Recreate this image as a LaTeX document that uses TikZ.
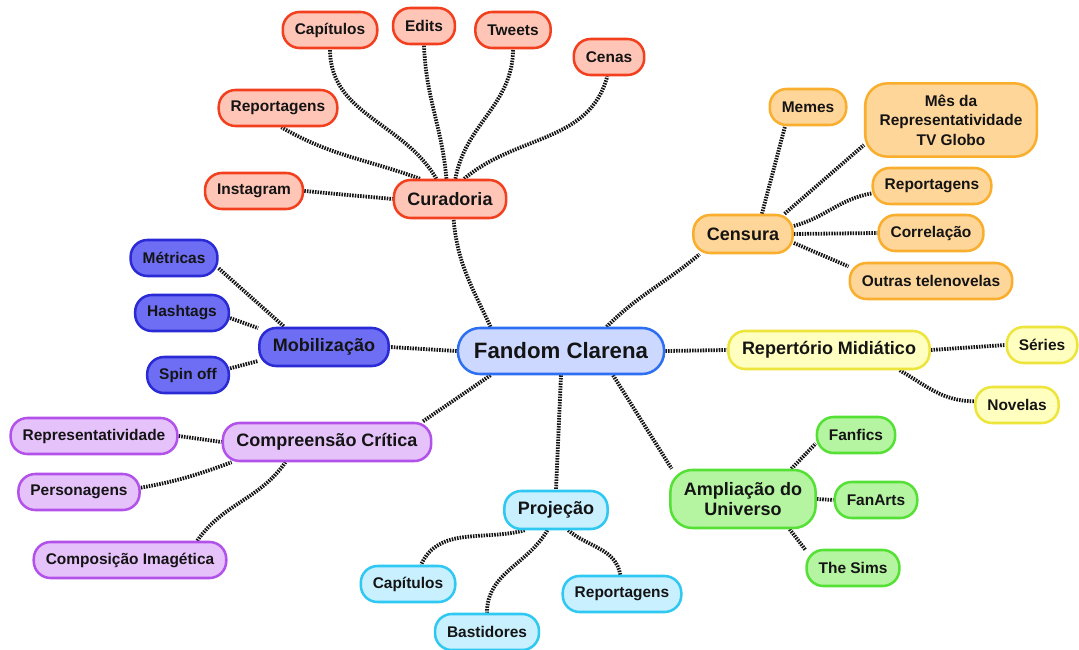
\documentclass[tikz,border=0pt]{standalone}
\usepackage{fontspec}
\setmainfont{Liberation Sans}
\usetikzlibrary{backgrounds}
\definecolor{ink}{HTML}{141414}
\definecolor{corefill}{HTML}{CCD8FF}
\definecolor{coreline}{HTML}{2D6FF2}
\definecolor{curfill}{HTML}{FFC6B8}
\definecolor{curline}{HTML}{F2401F}
\definecolor{censfill}{HTML}{FFD699}
\definecolor{censline}{HTML}{F9AE2D}
\definecolor{mobfill}{HTML}{6E6EF5}
\definecolor{mobline}{HTML}{2B2BD6}
\definecolor{repfill}{HTML}{FFFFC0}
\definecolor{repline}{HTML}{EDE43C}
\definecolor{ampfill}{HTML}{B5F5A2}
\definecolor{ampline}{HTML}{55E035}
\definecolor{compfill}{HTML}{E6C2FA}
\definecolor{compline}{HTML}{B352EA}
\definecolor{projfill}{HTML}{C9F0FF}
\definecolor{projline}{HTML}{2EC8F2}
\newcommand{\leaffont}{\fontsize{11}{14}\selectfont\bfseries}
\newcommand{\topicfont}{\fontsize{12.8}{14.2}\selectfont\bfseries}
\newcommand{\corefont}{\fontsize{15.8}{18}\selectfont\bfseries}
\tikzset{
  link/.style={draw=ink,line width=2.7pt,dash pattern=on 1.1pt off 0.8pt},
  bubble/.style={rectangle,rounded corners=0.42cm,line width=1.8pt,text=ink,
    font=\leaffont,minimum height=0.9cm,inner xsep=0.3cm,inner ysep=1pt,align=center},
  topic/.style={bubble,font=\topicfont,minimum height=0.95cm,inner xsep=0.34cm},
  core/.style={bubble,font=\corefont,minimum height=1.15cm,inner xsep=0.4cm,
    rounded corners=0.55cm,draw=coreline,fill=corefill},
  curbox/.style={draw=curline,fill=curfill},
  censbox/.style={draw=censline,fill=censfill},
  mobbox/.style={draw=mobline,fill=mobfill},
  repbox/.style={draw=repline,fill=repfill},
  ampbox/.style={draw=ampline,fill=ampfill},
  compbox/.style={draw=compline,fill=compfill},
  projbox/.style={draw=projline,fill=projfill},
}
\begin{document}
\begin{tikzpicture}[x=0.025cm,y=0.025cm]
\useasboundingbox (0,0) rectangle (1079,-650);
\node[core] (fandom) at (561,-351) {Fandom Clarena};
% Curadoria
\node[topic,curbox] (cur) at (450,-199) {Curadoria};
\node[bubble,curbox] (cap) at (330,-30) {Capítulos};
\node[bubble,curbox] (edits) at (424,-26) {Edits};
\node[bubble,curbox] (tweets) at (513,-30) {Tweets};
\node[bubble,curbox] (cenas) at (609,-57) {Cenas};
\node[bubble,curbox] (curRep) at (278,-108) {Reportagens};
\node[bubble,curbox] (insta) at (254,-191) {Instagram};
% Censura
\node[topic,censbox] (cens) at (743,-234) {Censura};
\node[bubble,censbox] (memes) at (808,-107) {Memes};
\node[bubble,censbox,minimum height=1.83cm,inner xsep=0.36cm,rounded corners=0.55cm] (globo) at (951,-120) {Mês da\\Representatividade\\TV Globo};
\node[bubble,censbox] (censRep) at (932,-186) {Reportagens};
\node[bubble,censbox] (corr) at (931,-233) {Correlação};
\node[bubble,censbox] (outras) at (931,-281) {Outras telenovelas};
% Mobilizacao
\node[topic,mobbox] (mob) at (324,-347) {Mobilização};
\node[bubble,mobbox] (metr) at (174,-258) {Métricas};
\node[bubble,mobbox] (hash) at (182,-313) {Hashtags};
\node[bubble,mobbox] (spin) at (188,-375) {Spin off};
% Repertorio
\node[topic,repbox] (rep) at (829,-350) {Repertório Midiático};
\node[bubble,repbox] (series) at (1042,-345) {Séries};
\node[bubble,repbox] (nov) at (1017,-405) {Novelas};
% Ampliacao
\node[topic,ampbox,minimum height=1.45cm,rounded corners=0.55cm] (amp) at (743,-499) {Ampliação do\\Universo};
\node[bubble,ampbox] (fanfic) at (856,-435) {Fanfics};
\node[bubble,ampbox] (fanart) at (876,-500) {FanArts};
\node[bubble,ampbox] (sims) at (853,-568) {The Sims};
% Compreensao
\node[topic,compbox] (crit) at (327,-442) {Compreensão Crítica};
\node[bubble,compbox] (repr) at (94,-436) {Representatividade};
\node[bubble,compbox] (pers) at (79,-492) {Personagens};
\node[bubble,compbox] (imag) at (130,-560) {Composição Imagética};
% Projecao
\node[topic,projbox] (proj) at (556,-510) {Projeção};
\node[bubble,projbox] (projCap) at (408,-584) {Capítulos};
\node[bubble,projbox] (bast) at (487,-632) {Bastidores};
\node[bubble,projbox] (projRep) at (622,-594) {Reportagens};
\begin{scope}[on background layer]
\draw[link] (fandom.west) -- (mob.east); \draw[link] (fandom.east) -- (rep.west);
\draw[link] (fandom.south) -- (proj.north);
\draw[link] (fandom.161) to[out=115,in=-85] (cur.-80);
\draw[link] (fandom.28) to[out=45,in=-140] (cens.205);
\draw[link] (fandom.199) -- (crit.12); \draw[link] (fandom.-25) -- (amp.157);
\draw[link] (insta.east) -- (cur.west);
\draw[link] (cur.146) to[out=160,in=-30] (curRep.-80);
\draw[link] (cur.124) to[out=120,in=-90] (cap.south);
\draw[link] (cur.100) to[out=95,in=-88] (edits.south);
\draw[link] (cur.75) to[out=80,in=-90] (tweets.south);
\draw[link] (cur.55) to[out=40,in=-105] (cenas.-95);
\draw[link] (cens.47) -- (memes.-140); \draw[link] (cens.26) -- (globo.196);
\draw[link] (cens.9) to[out=15,in=190] (censRep.187);
\draw[link] (cens.east) -- (corr.west); \draw[link] (cens.-10) -- (outras.170);
\draw[link] (metr.-13) -- (mob.153); \draw[link] (hash.-6) -- (mob.164);
\draw[link] (spin.9) -- (mob.192);
\draw[link] (rep.east) -- (series.west);
\draw[link] (rep.-16) to[out=-30,in=180] (nov.175);
\draw[link] (amp.32) -- (fanfic.192); \draw[link] (amp.east) -- (fanart.west);
\draw[link] (amp.-33) -- (sims.159);
\draw[link] (repr.east) -- (crit.west);
\draw[link] (pers.4) to[out=10,in=200] (crit.192);
\draw[link] (imag.16) to[out=55,in=235] (crit.206);
\draw[link] (proj.213) to[out=195,in=65] (projCap.56);
\draw[link] (proj.247) to[out=240,in=90] (bast.north);
\draw[link] (proj.-59) to[out=-40,in=100] (projRep.95);
\end{scope}
\end{tikzpicture}
\end{document}
